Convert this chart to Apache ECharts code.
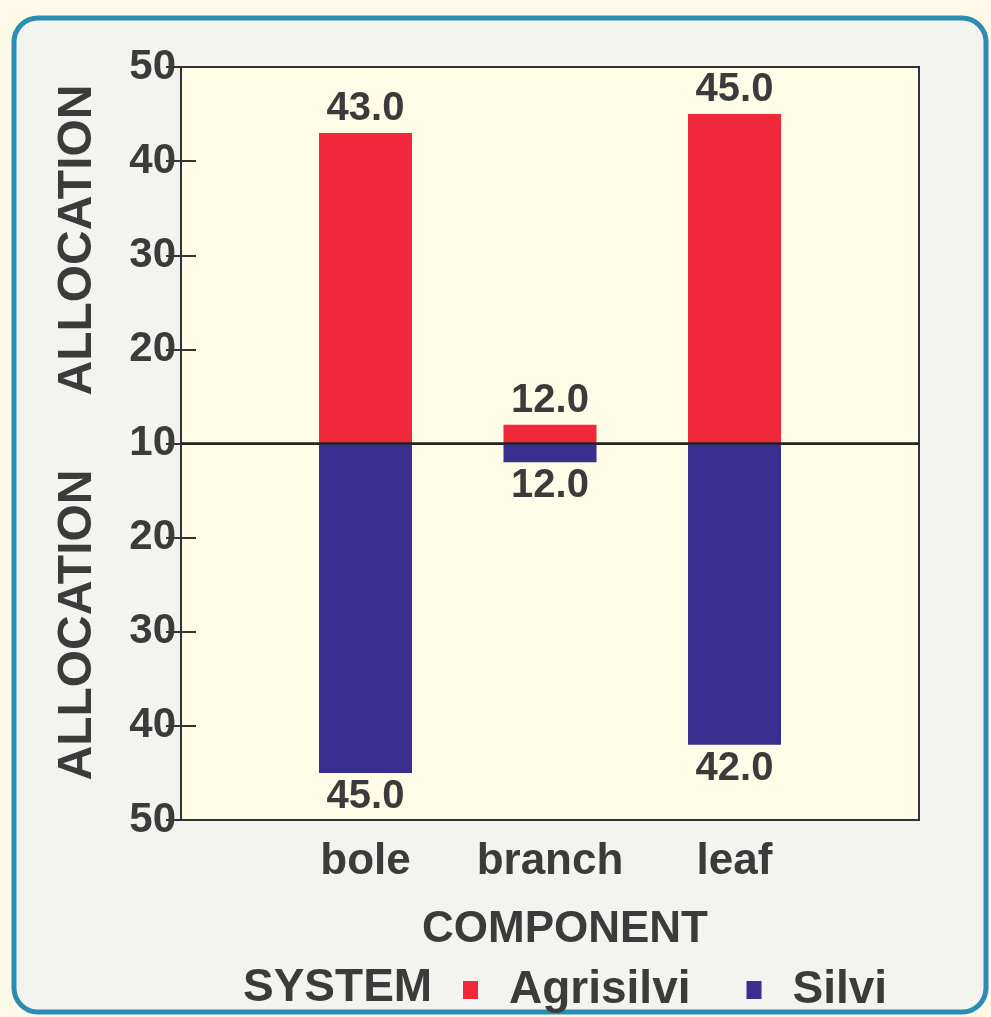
<!DOCTYPE html>
<html>
<head>
<meta charset="utf-8">
<script src="https://cdn.jsdelivr.net/npm/echarts@6/dist/echarts.min.js"></script>
<style>
html,body{margin:0;padding:0;background:#fcfae6;}
#main{width:991px;height:1017px;}
</style>
</head>
<body>
<div id="main"></div>
<script>
var categories = ['bole', 'branch', 'leaf'];
var agrisilvi = [43.0, 12.0, 45.0];
var silvi = [45.0, 12.0, 42.0];
var baseline = 10;

var txt = '#3b3b3b';
var font = '"Liberation Sans", Arial, sans-serif';

var chart = echarts.init(document.getElementById('main'));

var upData = agrisilvi.map(function(v, i){ return [i + 1, v - baseline]; });
var downData = silvi.map(function(v, i){ return [i + 1, -(v - baseline)]; });

chart.setOption({
	backgroundColor: '#fcfae6',
	animation: false,
	textStyle: {fontFamily: font},
	grid: {
		left: 181, top: 67, right: 72, bottom: 197,
		show: true, backgroundColor: '#fffde8',
		borderColor: '#333', borderWidth: 2
	},
	legend: {
		data: ['Agrisilvi', 'Silvi'],
		left: 458, top: 962,
		icon: 'rect', itemWidth: 15, itemHeight: 18, itemGap: 56,
		textStyle: {fontSize: 46, fontWeight: 'bold', color: txt, fontFamily: font, padding: [0, 0, 0, 26]}
	},
	xAxis: [{
		type: 'value', min: 0, max: 4, interval: 1, position: 'bottom',
		axisLine: {show: true, lineStyle: {color: '#333', width: 2}},
		axisTick: {show: true, inside: true, length: 13, lineStyle: {color: '#333', width: 2}},
		splitLine: {show: false},
		axisLabel: {
			fontSize: 44, fontWeight: 'bold', color: txt, margin: 20,
			formatter: function(v){ return categories[v - 1] || ''; }
		}
	}, {
		type: 'value', min: 0, max: 4, interval: 1, position: 'top',
		axisLine: {show: true, lineStyle: {color: '#333', width: 2}},
		axisTick: {show: true, inside: true, length: 13, lineStyle: {color: '#333', width: 2}},
		splitLine: {show: false},
		axisLabel: {show: false}
	}],
	yAxis: [{
		type: 'value', min: -40, max: 40, interval: 10, position: 'left',
		axisLine: {show: true, lineStyle: {color: '#333', width: 2}},
		axisTick: {show: true, inside: true, length: 15, lineStyle: {color: '#333', width: 2}},
		splitLine: {show: false},
		axisLabel: {
			fontSize: 42, fontWeight: 'bold', color: txt, margin: 5,
			formatter: function(v){ return Math.abs(v) + baseline; }
		}
	}, {
		type: 'value', min: -40, max: 40, interval: 10, position: 'right',
		axisLine: {show: true, lineStyle: {color: '#333', width: 2}},
		axisTick: {show: true, inside: true, length: 15, lineStyle: {color: '#333', width: 2}},
		splitLine: {show: false},
		axisLabel: {show: false}
	}],
	graphic: [
		{type: 'rect', z: -10, shape: {x: 14, y: 18, width: 972, height: 994, r: 24},
			style: {fill: '#f3f3ef', stroke: '#2b8db3', lineWidth: 5}},
		{type: 'text', x: 78, y: 240, rotation: Math.PI / 2,
			style: {text: 'ALLOCATION', fontSize: 48, fontWeight: 'bold', fill: txt, fontFamily: font, textAlign: 'center', textVerticalAlign: 'middle'}},
		{type: 'text', x: 78, y: 625, rotation: Math.PI / 2,
			style: {text: 'ALLOCATION', fontSize: 48, fontWeight: 'bold', fill: txt, fontFamily: font, textAlign: 'center', textVerticalAlign: 'middle'}},
		{type: 'text', x: 565, y: 930,
			style: {text: 'COMPONENT', fontSize: 44, fontWeight: 'bold', fill: txt, fontFamily: font, textAlign: 'center', textVerticalAlign: 'middle'}},
		{type: 'text', x: 243, y: 988,
			style: {text: 'SYSTEM', fontSize: 46, fontWeight: 'bold', fill: txt, fontFamily: font, textAlign: 'left', textVerticalAlign: 'middle'}}
	],
	series: [{
		name: 'Agrisilvi', type: 'bar', stack: 'all', barWidth: 93,
		data: upData,
		itemStyle: {color: '#f0283a'},
		label: {
			show: true, position: 'top', distance: 4,
			fontSize: 40, fontWeight: 'bold', color: txt, fontFamily: font,
			formatter: function(p){ return agrisilvi[p.dataIndex].toFixed(1); }
		},
		markLine: {
			silent: true, symbol: 'none', label: {show: false},
			lineStyle: {color: '#222', width: 2.5, type: 'solid'},
			data: [{yAxis: 0}]
		}
	}, {
		name: 'Silvi', type: 'bar', stack: 'all', barWidth: 93,
		data: downData,
		itemStyle: {color: '#3a2f90'},
		label: {
			show: true, position: 'bottom', distance: 4,
			fontSize: 40, fontWeight: 'bold', color: txt, fontFamily: font,
			formatter: function(p){ return silvi[p.dataIndex].toFixed(1); }
		}
	}]
});

window.onresize = function(){
	chart.resize();
}
</script>
</body>
</html>
